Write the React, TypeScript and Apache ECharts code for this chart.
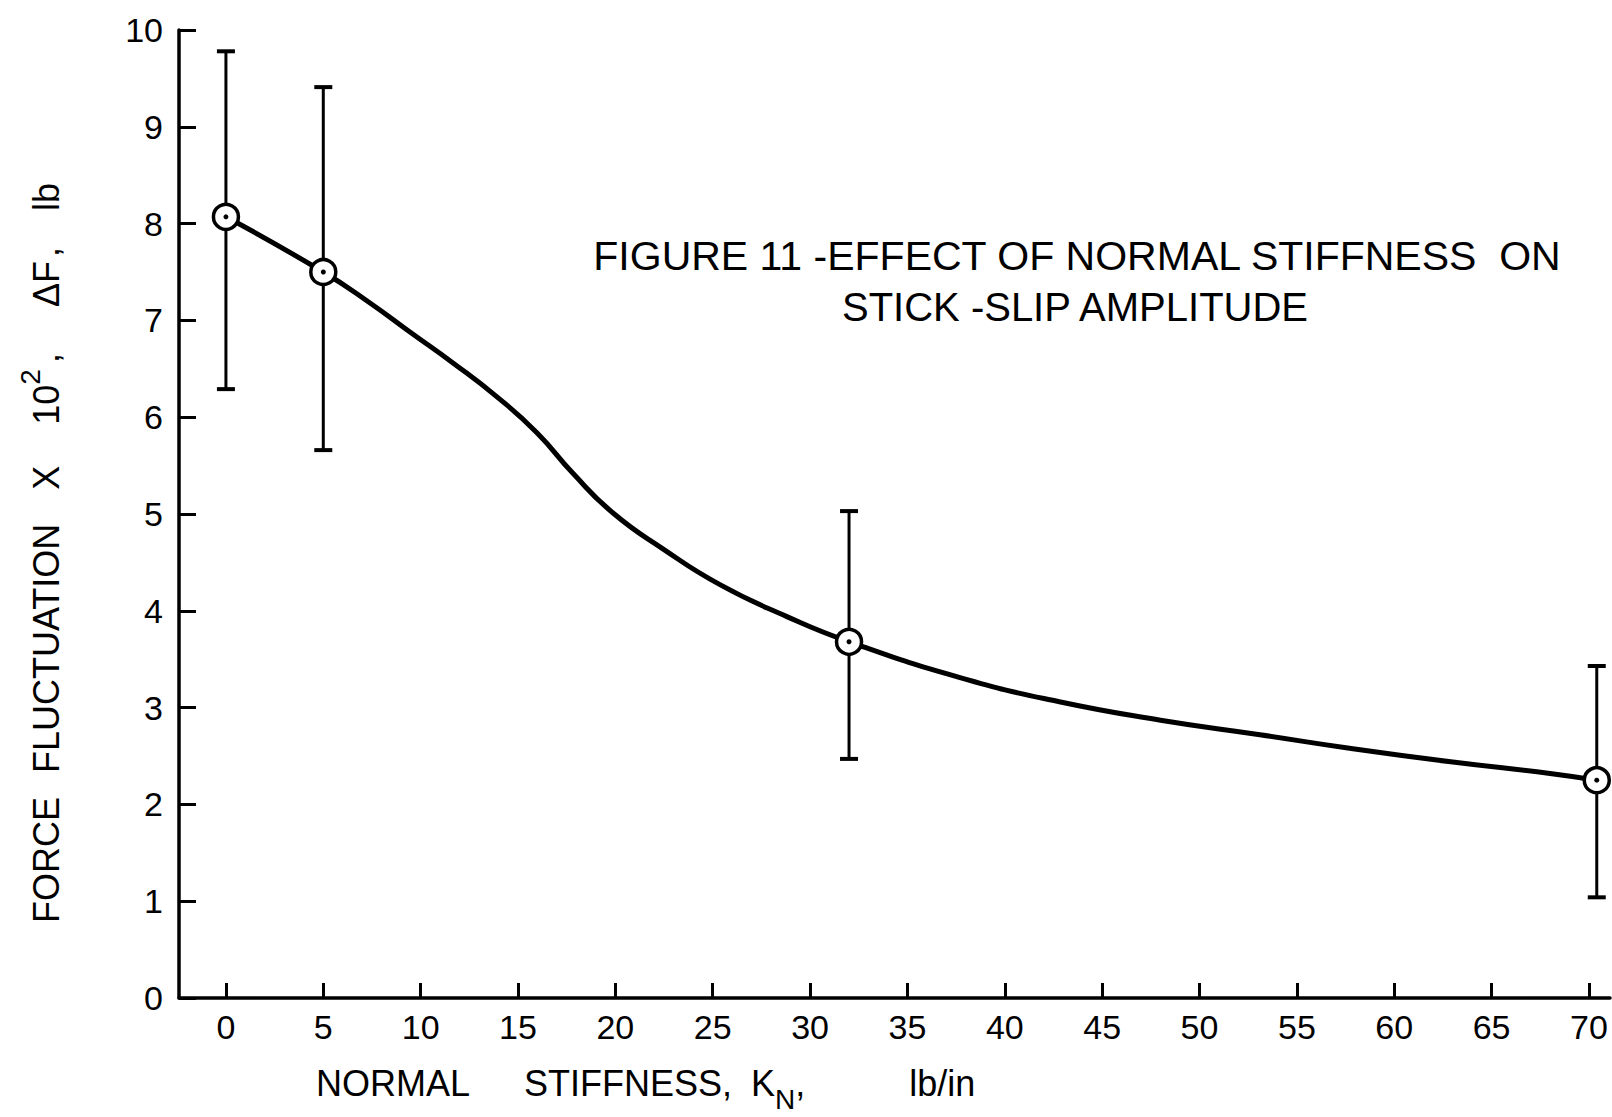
import React, { useEffect, useRef } from "react";
import * as echarts from "echarts";

// Measured data points (normal stiffness lb/in, force fluctuation x10^2 lb)
const stiffness = [0, 5, 32, 70.4];
const amplitude = [8.07, 7.5, 3.68, 2.25];
const upperBound = [9.78, 9.41, 5.03, 3.43];
const lowerBound = [6.29, 5.66, 2.47, 1.04];

// Faired curve
const curveX = [0, 5, 7.4, 9.45, 11.66, 13.92, 15.97, 17.82, 19.88, 22.44, 25.37, 28.81, 32, 37.7, 42.8, 48.0, 53.1, 57.7, 62.9, 68.0, 70.4];
const curveY = [8.07, 7.5, 7.18, 6.88, 6.56, 6.21, 5.84, 5.42, 5.01, 4.64, 4.27, 3.94, 3.68, 3.31, 3.06, 2.87, 2.72, 2.58, 2.44, 2.32, 2.25];

const xTicks = [0, 5, 10, 15, 20, 25, 30, 35, 40, 45, 50, 55, 60, 65, 70];
const yTicks = [0, 1, 2, 3, 4, 5, 6, 7, 8, 9, 10];

const FONT = "'Liberation Sans', Arial, Helvetica, sans-serif";

export default function App() {
  const ref = useRef<HTMLDivElement>(null);

  useEffect(() => {
    if (!ref.current) return;
    const chart = echarts.init(ref.current, undefined, { renderer: "svg" });

    const tStyle = { fontFamily: FONT, fontSize: 36, lineHeight: 60, verticalAlign: "middle", fill: "#000" };

    const option: any = {
      animation: false,
      backgroundColor: "#ffffff",
      grid: { left: 179, right: 2, top: 30, bottom: 119, containLabel: false },
      xAxis: {
        type: "value",
        min: -2.41,
        max: 71.08,
        axisLine: { show: true, onZero: false, lineStyle: { color: "#000", width: 3.5 } },
        axisTick: {
          show: true,
          inside: true,
          length: 15,
          customValues: xTicks,
          lineStyle: { color: "#000", width: 3 },
        },
        axisLabel: {
          show: true,
          customValues: xTicks,
          color: "#000",
          fontFamily: FONT,
          fontSize: 34,
          margin: 12,
        },
        splitLine: { show: false },
      },
      yAxis: {
        type: "value",
        min: 0,
        max: 10,
        interval: 1,
        axisLine: { show: true, onZero: false, lineStyle: { color: "#000", width: 3.5 } },
        axisTick: { show: true, inside: true, length: 17, lineStyle: { color: "#000", width: 3 } },
        axisLabel: {
          show: true,
          color: "#000",
          fontFamily: FONT,
          fontSize: 34,
          margin: 16,
          formatter: (v: number) => (yTicks.indexOf(v) >= 0 ? String(v) : ""),
        },
        splitLine: { show: false },
      },
      series: [
        {
          type: "custom",
          z: 2,
          data: stiffness.map((x, i) => [x, lowerBound[i], upperBound[i]]),
          encode: { x: 0, y: [1, 2] },
          renderItem: (params: any, api: any) => {
            const x = api.value(0);
            const lo = api.coord([x, api.value(1)]);
            const hi = api.coord([x, api.value(2)]);
            const cap = 9;
            return {
              type: "group",
              children: [
                { type: "line", shape: { x1: lo[0], y1: lo[1], x2: hi[0], y2: hi[1] }, style: { stroke: "#000", lineWidth: 3 } },
                { type: "line", shape: { x1: hi[0] - cap, y1: hi[1], x2: hi[0] + cap, y2: hi[1] }, style: { stroke: "#000", lineWidth: 4 } },
                { type: "line", shape: { x1: lo[0] - cap, y1: lo[1], x2: lo[0] + cap, y2: lo[1] }, style: { stroke: "#000", lineWidth: 4 } },
              ],
            };
          },
        },
        {
          type: "line",
          z: 3,
          data: curveX.map((x, i) => [x, curveY[i]]),
          smooth: 0.5,
          showSymbol: false,
          symbol: "none",
          lineStyle: { color: "#000", width: 5 },
        },
        {
          type: "scatter",
          z: 4,
          data: stiffness.map((x, i) => [x, amplitude[i]]),
          symbol: "circle",
          symbolSize: 25,
          itemStyle: { color: "#fff", borderColor: "#000", borderWidth: 3.5, opacity: 1 },
        },
        {
          type: "scatter",
          z: 5,
          data: stiffness.map((x, i) => [x, amplitude[i]]),
          symbol: "circle",
          symbolSize: 5,
          itemStyle: { color: "#000", opacity: 1 },
        },
      ],
      graphic: [
        {
          type: "text",
          x: 1077,
          y: 256,
          style: {
            text: "FIGURE 11 -EFFECT OF NORMAL STIFFNESS  ON",
            fontFamily: FONT,
            fontSize: 41,
            fill: "#000",
            align: "center",
            verticalAlign: "middle",
          },
        },
        {
          type: "text",
          x: 1075,
          y: 307,
          style: {
            text: "STICK -SLIP AMPLITUDE",
            fontFamily: FONT,
            fontSize: 40,
            fill: "#000",
            align: "center",
            verticalAlign: "middle",
          },
        },
        {
          type: "text",
          x: 316,
          y: 1083,
          style: {
            text: "{t|NORMAL}{g1|}{t|STIFFNESS,}{g2|}{t|K}{s|N}{t|,}{g3|}{t|lb/in}",
            fontFamily: FONT,
            fill: "#000",
            align: "left",
            verticalAlign: "middle",
            rich: {
              t: tStyle,
              s: { fontFamily: FONT, fontSize: 28, lineHeight: 28, verticalAlign: "bottom", fill: "#000" },
              g1: { width: 54 },
              g2: { width: 19 },
              g3: { width: 104 },
            },
          },
        },
        {
          type: "text",
          x: 46,
          y: 553,
          rotation: Math.PI / 2,
          style: {
            text: "{t|FORCE}{g1|}{t|FLUCTUATION}{g2|}{t|X}{g3|}{t|10}{p|2}{g4|}{t|,}{g5|}{t|ΔF}{g6|}{t|,}{g7|}{t|lb}",
            fontFamily: FONT,
            fill: "#000",
            align: "center",
            verticalAlign: "middle",
            rich: {
              t: tStyle,
              p: { fontFamily: FONT, fontSize: 28, lineHeight: 28, verticalAlign: "top", fill: "#000" },
              g1: { width: 24 },
              g2: { width: 34 },
              g3: { width: 41 },
              g4: { width: 6 },
              g5: { width: 46 },
              g6: { width: 4 },
              g7: { width: 36 },
            },
          },
        },
      ],
    };

    chart.setOption(option);
    return () => chart.dispose();
  }, []);

  return (
    <div
      ref={ref}
      style={{ position: "fixed", left: 0, top: 0, width: 1612, height: 1117, background: "#fff" }}
    />
  );
}
